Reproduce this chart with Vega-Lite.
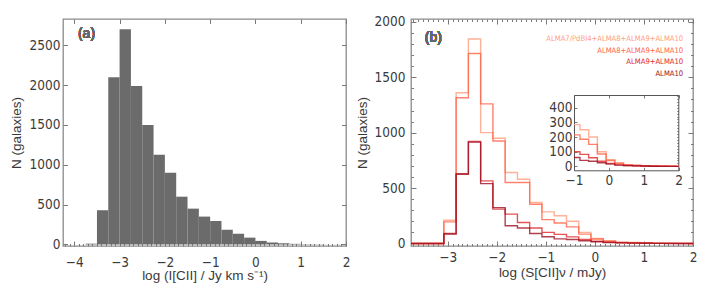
{
  "$schema": "https://vega.github.io/schema/vega-lite/v6.json",
  "padding": {"left": 8, "top": 14, "right": 0, "bottom": 0},
  "spacing": 3,
  "datasets": {
    "left": [
      {"x0": -3.75, "x1": -3.5, "n": 10},
      {"x0": -3.5, "x1": -3.25, "n": 430},
      {"x0": -3.25, "x1": -3.0, "n": 2100},
      {"x0": -3.0, "x1": -2.75, "n": 2700},
      {"x0": -2.75, "x1": -2.5, "n": 1990},
      {"x0": -2.5, "x1": -2.25, "n": 1500},
      {"x0": -2.25, "x1": -2.0, "n": 1125},
      {"x0": -2.0, "x1": -1.75, "n": 900},
      {"x0": -1.75, "x1": -1.5, "n": 600},
      {"x0": -1.5, "x1": -1.25, "n": 450},
      {"x0": -1.25, "x1": -1.0, "n": 350},
      {"x0": -1.0, "x1": -0.75, "n": 295},
      {"x0": -0.75, "x1": -0.5, "n": 185},
      {"x0": -0.5, "x1": -0.25, "n": 136},
      {"x0": -0.25, "x1": 0.0, "n": 86},
      {"x0": 0.0, "x1": 0.25, "n": 45},
      {"x0": 0.25, "x1": 0.5, "n": 25},
      {"x0": 0.5, "x1": 0.75, "n": 14},
      {"x0": 0.75, "x1": 1.0, "n": 8},
      {"x0": 1.0, "x1": 1.25, "n": 4},
      {"x0": 1.25, "x1": 1.5, "n": 2},
      {"x0": 1.5, "x1": 1.75, "n": 1},
      {"x0": 1.75, "x1": 2.0, "n": 1}
    ],
    "series": [
      {"s": "ALMA7/PdBI4+ALMA8+ALMA9+ALMA10"},
      {"s": "ALMA8+ALMA9+ALMA10"},
      {"s": "ALMA9+ALMA10"},
      {"s": "ALMA10"}
    ],
    "right": [
      {"s": "ALMA7/PdBI4+ALMA8+ALMA9+ALMA10", "x": -3.75, "n": 0},
      {"s": "ALMA7/PdBI4+ALMA8+ALMA9+ALMA10", "x": -3.08, "n": 210},
      {"s": "ALMA7/PdBI4+ALMA8+ALMA9+ALMA10", "x": -2.83, "n": 1360},
      {"s": "ALMA7/PdBI4+ALMA8+ALMA9+ALMA10", "x": -2.58, "n": 1845},
      {"s": "ALMA7/PdBI4+ALMA8+ALMA9+ALMA10", "x": -2.33, "n": 1000},
      {"s": "ALMA7/PdBI4+ALMA8+ALMA9+ALMA10", "x": -2.08, "n": 950},
      {"s": "ALMA7/PdBI4+ALMA8+ALMA9+ALMA10", "x": -1.83, "n": 640},
      {"s": "ALMA7/PdBI4+ALMA8+ALMA9+ALMA10", "x": -1.58, "n": 580},
      {"s": "ALMA7/PdBI4+ALMA8+ALMA9+ALMA10", "x": -1.33, "n": 370},
      {"s": "ALMA7/PdBI4+ALMA8+ALMA9+ALMA10", "x": -1.08, "n": 285},
      {"s": "ALMA7/PdBI4+ALMA8+ALMA9+ALMA10", "x": -0.83, "n": 250},
      {"s": "ALMA7/PdBI4+ALMA8+ALMA9+ALMA10", "x": -0.58, "n": 200},
      {"s": "ALMA7/PdBI4+ALMA8+ALMA9+ALMA10", "x": -0.33, "n": 100},
      {"s": "ALMA7/PdBI4+ALMA8+ALMA9+ALMA10", "x": -0.08, "n": 45},
      {"s": "ALMA7/PdBI4+ALMA8+ALMA9+ALMA10", "x": 0.17, "n": 25},
      {"s": "ALMA7/PdBI4+ALMA8+ALMA9+ALMA10", "x": 0.42, "n": 12},
      {"s": "ALMA7/PdBI4+ALMA8+ALMA9+ALMA10", "x": 0.67, "n": 8},
      {"s": "ALMA7/PdBI4+ALMA8+ALMA9+ALMA10", "x": 0.92, "n": 5},
      {"s": "ALMA7/PdBI4+ALMA8+ALMA9+ALMA10", "x": 1.17, "n": 3},
      {"s": "ALMA7/PdBI4+ALMA8+ALMA9+ALMA10", "x": 1.42, "n": 2},
      {"s": "ALMA7/PdBI4+ALMA8+ALMA9+ALMA10", "x": 1.67, "n": 1},
      {"s": "ALMA7/PdBI4+ALMA8+ALMA9+ALMA10", "x": 1.92, "n": 0},
      {"s": "ALMA7/PdBI4+ALMA8+ALMA9+ALMA10", "x": 2.0, "n": 0},
      {"s": "ALMA8+ALMA9+ALMA10", "x": -3.75, "n": 0},
      {"s": "ALMA8+ALMA9+ALMA10", "x": -3.08, "n": 195},
      {"s": "ALMA8+ALMA9+ALMA10", "x": -2.83, "n": 1315},
      {"s": "ALMA8+ALMA9+ALMA10", "x": -2.58, "n": 1715},
      {"s": "ALMA8+ALMA9+ALMA10", "x": -2.33, "n": 1260},
      {"s": "ALMA8+ALMA9+ALMA10", "x": -2.08, "n": 925},
      {"s": "ALMA8+ALMA9+ALMA10", "x": -1.83, "n": 550},
      {"s": "ALMA8+ALMA9+ALMA10", "x": -1.58, "n": 550},
      {"s": "ALMA8+ALMA9+ALMA10", "x": -1.33, "n": 354},
      {"s": "ALMA8+ALMA9+ALMA10", "x": -1.08, "n": 215},
      {"s": "ALMA8+ALMA9+ALMA10", "x": -0.83, "n": 185},
      {"s": "ALMA8+ALMA9+ALMA10", "x": -0.58, "n": 150},
      {"s": "ALMA8+ALMA9+ALMA10", "x": -0.33, "n": 84},
      {"s": "ALMA8+ALMA9+ALMA10", "x": -0.08, "n": 40},
      {"s": "ALMA8+ALMA9+ALMA10", "x": 0.17, "n": 20},
      {"s": "ALMA8+ALMA9+ALMA10", "x": 0.42, "n": 10},
      {"s": "ALMA8+ALMA9+ALMA10", "x": 0.67, "n": 6},
      {"s": "ALMA8+ALMA9+ALMA10", "x": 0.92, "n": 4},
      {"s": "ALMA8+ALMA9+ALMA10", "x": 1.17, "n": 2},
      {"s": "ALMA8+ALMA9+ALMA10", "x": 1.42, "n": 1},
      {"s": "ALMA8+ALMA9+ALMA10", "x": 1.67, "n": 1},
      {"s": "ALMA8+ALMA9+ALMA10", "x": 1.92, "n": 0},
      {"s": "ALMA8+ALMA9+ALMA10", "x": 2.0, "n": 0},
      {"s": "ALMA9+ALMA10", "x": -3.75, "n": 0},
      {"s": "ALMA9+ALMA10", "x": -3.08, "n": 90},
      {"s": "ALMA9+ALMA10", "x": -2.83, "n": 630},
      {"s": "ALMA9+ALMA10", "x": -2.58, "n": 920},
      {"s": "ALMA9+ALMA10", "x": -2.33, "n": 565},
      {"s": "ALMA9+ALMA10", "x": -2.08, "n": 310},
      {"s": "ALMA9+ALMA10", "x": -1.83, "n": 265},
      {"s": "ALMA9+ALMA10", "x": -1.58, "n": 189},
      {"s": "ALMA9+ALMA10", "x": -1.33, "n": 140},
      {"s": "ALMA9+ALMA10", "x": -1.08, "n": 100},
      {"s": "ALMA9+ALMA10", "x": -0.83, "n": 82},
      {"s": "ALMA9+ALMA10", "x": -0.58, "n": 59},
      {"s": "ALMA9+ALMA10", "x": -0.33, "n": 35},
      {"s": "ALMA9+ALMA10", "x": -0.08, "n": 20},
      {"s": "ALMA9+ALMA10", "x": 0.17, "n": 10},
      {"s": "ALMA9+ALMA10", "x": 0.42, "n": 6},
      {"s": "ALMA9+ALMA10", "x": 0.67, "n": 4},
      {"s": "ALMA9+ALMA10", "x": 0.92, "n": 2},
      {"s": "ALMA9+ALMA10", "x": 1.17, "n": 1},
      {"s": "ALMA9+ALMA10", "x": 1.42, "n": 1},
      {"s": "ALMA9+ALMA10", "x": 1.67, "n": 0},
      {"s": "ALMA9+ALMA10", "x": 1.92, "n": 0},
      {"s": "ALMA9+ALMA10", "x": 2.0, "n": 0},
      {"s": "ALMA10", "x": -3.75, "n": 0},
      {"s": "ALMA10", "x": -3.08, "n": 85},
      {"s": "ALMA10", "x": -2.83, "n": 625},
      {"s": "ALMA10", "x": -2.58, "n": 915},
      {"s": "ALMA10", "x": -2.33, "n": 540},
      {"s": "ALMA10", "x": -2.08, "n": 323},
      {"s": "ALMA10", "x": -1.83, "n": 160},
      {"s": "ALMA10", "x": -1.58, "n": 139},
      {"s": "ALMA10", "x": -1.33, "n": 90},
      {"s": "ALMA10", "x": -1.08, "n": 60},
      {"s": "ALMA10", "x": -0.83, "n": 41},
      {"s": "ALMA10", "x": -0.58, "n": 35},
      {"s": "ALMA10", "x": -0.33, "n": 25},
      {"s": "ALMA10", "x": -0.08, "n": 15},
      {"s": "ALMA10", "x": 0.17, "n": 8},
      {"s": "ALMA10", "x": 0.42, "n": 5},
      {"s": "ALMA10", "x": 0.67, "n": 3},
      {"s": "ALMA10", "x": 0.92, "n": 2},
      {"s": "ALMA10", "x": 1.17, "n": 1},
      {"s": "ALMA10", "x": 1.42, "n": 0},
      {"s": "ALMA10", "x": 1.67, "n": 0},
      {"s": "ALMA10", "x": 1.92, "n": 0},
      {"s": "ALMA10", "x": 2.0, "n": 0}
    ]
  },
  "hconcat": [
    {
      "width": 283,
      "height": 227,
      "data": {"name": "left"},
      "layer": [
        {
          "mark": {"type": "bar", "color": "#6b6b6b"},
          "encoding": {
            "x": {"field": "x0", "type": "quantitative", "scale": {"domain": [-4.25, 2], "nice": false},
                  "axis": {"orient": "bottom", "values": [-4, -3, -2, -1, 0, 1, 2], "format": "d", "ticks": false, "labelPadding": 9, "title": "log (I[CII] / Jy km s⁻¹)", "titlePadding": 0}},
            "x2": {"field": "x1"},
            "y": {"field": "n", "type": "quantitative", "scale": {"domain": [-19, 2830], "nice": false},
                  "axis": {"orient": "left", "values": [0, 500, 1000, 1500, 2000, 2500], "format": "d", "ticks": false, "labelPadding": 3, "title": "N (galaxies)", "titlePadding": 6}},
            "y2": {"datum": 0}
          }
        },
        {
          "mark": {"type": "point", "opacity": 0},
          "encoding": {
            "x": {"field": "x0", "type": "quantitative", "scale": {"domain": [-4.25, 2], "nice": false, "clamp": true},
                  "axis": {"orient": "bottom", "values": [-4.2,-4.1,-4.0,-3.9,-3.8,-3.7,-3.6,-3.5,-3.4,-3.3,-3.2,-3.1,-3.0,-2.9,-2.8,-2.7,-2.6,-2.5,-2.4,-2.3,-2.2,-2.1,-2.0,-1.9,-1.8,-1.7,-1.6,-1.5,-1.4,-1.3,-1.2,-1.1,-1.0,-0.9,-0.8,-0.7,-0.6,-0.5,-0.4,-0.3,-0.2,-0.1,0,0.1,0.2,0.3,0.4,0.5,0.6,0.7,0.8,0.9,1.0,1.1,1.2,1.3,1.4,1.5,1.6,1.7,1.8,1.9,2.0], "labels": false, "tickSize": -2.5, "title": null}},
            "y": {"field": "n", "type": "quantitative", "scale": {"domain": [-19, 2830], "nice": false, "clamp": true},
                  "axis": {"orient": "left", "values": [0, 500, 1000, 1500, 2000, 2500], "labels": false, "tickSize": -4.5, "title": null}}
          }
        },
        {
          "mark": {"type": "point", "opacity": 0},
          "encoding": {
            "x": {"field": "x0", "type": "quantitative", "scale": {"domain": [-4.25, 2], "nice": false, "clamp": true},
                  "axis": {"orient": "bottom", "values": [-4, -3, -2, -1, 0, 1, 2], "labels": false, "tickSize": -5, "title": null}},
            "y": {"field": "n", "type": "quantitative", "scale": {"domain": [-19, 2830], "nice": false, "clamp": true},
                  "axis": {"orient": "right", "values": [0, 500, 1000, 1500, 2000, 2500], "labels": false, "tickSize": -4.5, "title": null}}
          }
        },
        {
          "mark": {"type": "point", "opacity": 0},
          "encoding": {
            "x": {"field": "x0", "type": "quantitative", "scale": {"domain": [-4.25, 2], "nice": false, "clamp": true},
                  "axis": {"orient": "top", "values": [-4, -3, -2, -1, 0, 1, 2], "labels": false, "tickSize": -4.5, "title": null}},
            "y": {"field": "n", "type": "quantitative", "scale": {"domain": [-19, 2830], "nice": false, "clamp": true}, "axis": null}
          }
        },
        {
          "mark": {"type": "text", "text": "(a)", "align": "left", "baseline": "middle", "fontSize": 14, "font": "Liberation Sans", "fontWeight": "normal", "fill": "#666666"},
          "encoding": {
            "x": {"datum": -3.92, "type": "quantitative", "scale": {"domain": [-4.25, 2], "nice": false}, "axis": null},
            "y": {"datum": 2641, "type": "quantitative", "scale": {"domain": [-19, 2830], "nice": false}, "axis": null}
          }
        }
      ],
      "resolve": {"scale": {"x": "independent", "y": "independent"}}
    },
    {
      "width": 282,
      "height": 227,
      "data": {"name": "right"},
      "layer": [
        {
          "mark": {"type": "line", "interpolate": "step-after", "strokeWidth": 1.4, "opacity": 0.8},
          "encoding": {
            "x": {"field": "x", "type": "quantitative", "scale": {"domain": [-3.75, 2], "nice": false},
                  "axis": {"orient": "bottom", "values": [-3, -2, -1, 0, 1, 2], "format": "d", "ticks": false, "labelPadding": 4.5, "title": "log (S[CII]ν / mJy)", "titlePadding": 1.5}},
            "y": {"field": "n", "type": "quantitative", "scale": {"domain": [-23, 2026], "nice": false},
                  "axis": {"orient": "left", "values": [0, 500, 1000, 1500, 2000], "format": "d", "ticks": false, "labelPadding": 6, "title": "N (galaxies)", "titlePadding": 5}},
            "color": {"field": "s", "type": "nominal", "legend": null,
                      "scale": {"domain": ["ALMA7/PdBI4+ALMA8+ALMA9+ALMA10", "ALMA8+ALMA9+ALMA10", "ALMA9+ALMA10", "ALMA10"],
                                "range": ["#ff9f80", "#ff6347", "#e0282a", "#9e1020"]}}
          }
        },
        {
          "mark": {"type": "point", "opacity": 0},
          "encoding": {
            "x": {"field": "x", "type": "quantitative", "scale": {"domain": [-3.75, 2], "nice": false, "clamp": true},
                  "axis": {"orient": "bottom", "values": [-3.7,-3.6,-3.5,-3.4,-3.3,-3.2,-3.1,-3.0,-2.9,-2.8,-2.7,-2.6,-2.5,-2.4,-2.3,-2.2,-2.1,-2.0,-1.9,-1.8,-1.7,-1.6,-1.5,-1.4,-1.3,-1.2,-1.1,-1.0,-0.9,-0.8,-0.7,-0.6,-0.5,-0.4,-0.3,-0.2,-0.1,0,0.1,0.2,0.3,0.4,0.5,0.6,0.7,0.8,0.9,1.0,1.1,1.2,1.3,1.4,1.5,1.6,1.7,1.8,1.9,2.0], "labels": false, "tickSize": -2.5, "title": null}},
            "y": {"field": "n", "type": "quantitative", "scale": {"domain": [-23, 2026], "nice": false, "clamp": true},
                  "axis": {"orient": "left", "values": [0,100,200,300,400,500,600,700,800,900,1000,1100,1200,1300,1400,1500,1600,1700,1800,1900,2000], "labels": false, "tickSize": -2.5, "title": null}}
          }
        },
        {
          "mark": {"type": "point", "opacity": 0},
          "encoding": {
            "x": {"field": "x", "type": "quantitative", "scale": {"domain": [-3.75, 2], "nice": false, "clamp": true},
                  "axis": {"orient": "bottom", "values": [-3, -2, -1, 0, 1, 2], "labels": false, "tickSize": -5, "title": null}},
            "y": {"field": "n", "type": "quantitative", "scale": {"domain": [-23, 2026], "nice": false, "clamp": true},
                  "axis": {"orient": "left", "values": [0, 500, 1000, 1500, 2000], "labels": false, "tickSize": -5, "title": null}}
          }
        },
        {
          "mark": {"type": "point", "opacity": 0},
          "encoding": {
            "x": {"field": "x", "type": "quantitative", "scale": {"domain": [-3.75, 2], "nice": false, "clamp": true},
                  "axis": {"orient": "top", "values": [-3.7,-3.6,-3.5,-3.4,-3.3,-3.2,-3.1,-3.0,-2.9,-2.8,-2.7,-2.6,-2.5,-2.4,-2.3,-2.2,-2.1,-2.0,-1.9,-1.8,-1.7,-1.6,-1.5,-1.4,-1.3,-1.2,-1.1,-1.0,-0.9,-0.8,-0.7,-0.6,-0.5,-0.4,-0.3,-0.2,-0.1,0,0.1,0.2,0.3,0.4,0.5,0.6,0.7,0.8,0.9,1.0,1.1,1.2,1.3,1.4,1.5,1.6,1.7,1.8,1.9,2.0], "labels": false, "tickSize": -2.5, "title": null}},
            "y": {"field": "n", "type": "quantitative", "scale": {"domain": [-23, 2026], "nice": false, "clamp": true},
                  "axis": {"orient": "right", "values": [0,100,200,300,400,500,600,700,800,900,1000,1100,1200,1300,1400,1500,1600,1700,1800,1900,2000], "labels": false, "tickSize": -2.5, "title": null}}
          }
        },
        {
          "mark": {"type": "point", "opacity": 0},
          "encoding": {
            "x": {"field": "x", "type": "quantitative", "scale": {"domain": [-3.75, 2], "nice": false, "clamp": true},
                  "axis": {"orient": "top", "values": [-3, -2, -1, 0, 1, 2], "labels": false, "tickSize": -5, "title": null}},
            "y": {"field": "n", "type": "quantitative", "scale": {"domain": [-23, 2026], "nice": false, "clamp": true},
                  "axis": {"orient": "right", "values": [0, 500, 1000, 1500, 2000], "labels": false, "tickSize": -5, "title": null}}
          }
        },
        {
          "transform": [{"filter": "datum.x >= -1.1"}],
          "mark": {"type": "line", "interpolate": "step-after", "strokeWidth": 1.4, "opacity": 0.8},
          "encoding": {
            "x": {"field": "x", "type": "quantitative", "scale": {"domain": [-1, 2], "range": [163, 267.7], "nice": false, "clamp": true},
                  "axis": {"orient": "bottom", "offset": -75.7, "values": [-1, 0, 1, 2], "format": "d", "domain": true, "domainColor": "#555", "ticks": true, "tickSize": -3, "labelPadding": 6, "title": null}},
            "y": {"field": "n", "type": "quantitative", "scale": {"domain": [-27, 487], "range": [151.3, 76], "nice": false, "clamp": true},
                  "axis": {"orient": "left", "offset": -163, "values": [0, 100, 200, 300, 400], "format": "d", "domain": true, "domainColor": "#555", "ticks": true, "tickSize": -3, "labelPadding": 5, "title": null}},
            "color": {"field": "s", "type": "nominal", "legend": null}
          }
        },
        {
          "transform": [{"filter": "datum.x >= -1.1 && datum.n <= 480"}],
          "mark": {"type": "point", "opacity": 0},
          "encoding": {
            "x": {"field": "x", "type": "quantitative", "scale": {"domain": [-1, 2], "range": [163, 267.7], "nice": false, "clamp": true},
                  "axis": {"orient": "top", "offset": -76, "values": [-1, 0, 1, 2], "domain": true, "domainColor": "#555", "labels": false, "tickSize": -3, "title": null}},
            "y": {"field": "n", "type": "quantitative", "scale": {"domain": [-27, 487], "range": [151.3, 76], "nice": false, "clamp": true},
                  "axis": {"orient": "right", "offset": -14.7, "values": [0,20,40,60,80,100,120,140,160,180,200,220,240,260,280,300,320,340,360,380,400,420,440,460,480], "domain": true, "domainColor": "#555", "labels": false, "tickSize": -1.5, "title": null}}
          }
        },
        {
          "data": {"name": "series"},
          "mark": {"type": "text", "align": "right", "baseline": "middle", "fontSize": 7.6},
          "encoding": {
            "x": {"datum": 1.8, "type": "quantitative", "scale": {"domain": [-3.75, 2], "nice": false}, "axis": null},
            "y": {"field": "s", "type": "nominal", "scale": {"type": "point", "domain": ["ALMA7/PdBI4+ALMA8+ALMA9+ALMA10", "ALMA8+ALMA9+ALMA10", "ALMA9+ALMA10", "ALMA10"], "range": [20.3, 54.7], "padding": 0}, "axis": null},
            "text": {"field": "s"},
            "color": {"field": "s", "type": "nominal", "legend": null}
          }
        },
        {
          "mark": {"type": "text", "text": "(b)", "align": "left", "baseline": "middle", "fontSize": 14, "font": "Liberation Sans", "fontWeight": "normal", "fill": "#666666"},
          "encoding": {
            "x": {"datum": -3.47, "type": "quantitative", "scale": {"domain": [-3.75, 2], "nice": false}, "axis": null},
            "y": {"datum": 1856, "type": "quantitative", "scale": {"domain": [-23, 2026], "nice": false}, "axis": null}
          }
        }
      ],
      "resolve": {"scale": {"x": "independent", "y": "independent"}}
    }
  ],
  "config": {
    "font": "Liberation Sans Narrow, DejaVu Sans Condensed, Liberation Sans, sans-serif",
    "view": {"stroke": "#8a8a8a", "strokeWidth": 1.3},
    "axis": {"grid": false, "domain": false, "labelColor": "#3a3a3a", "titleColor": "#3a3a3a", "tickColor": "#7a7a7a",
             "labelFontSize": 13.5, "titleFontSize": 13.5, "titleFontWeight": "normal", "titleFont": "Liberation Sans, sans-serif",
             "labelFlush": false, "labelOverlap": false}
  }
}
